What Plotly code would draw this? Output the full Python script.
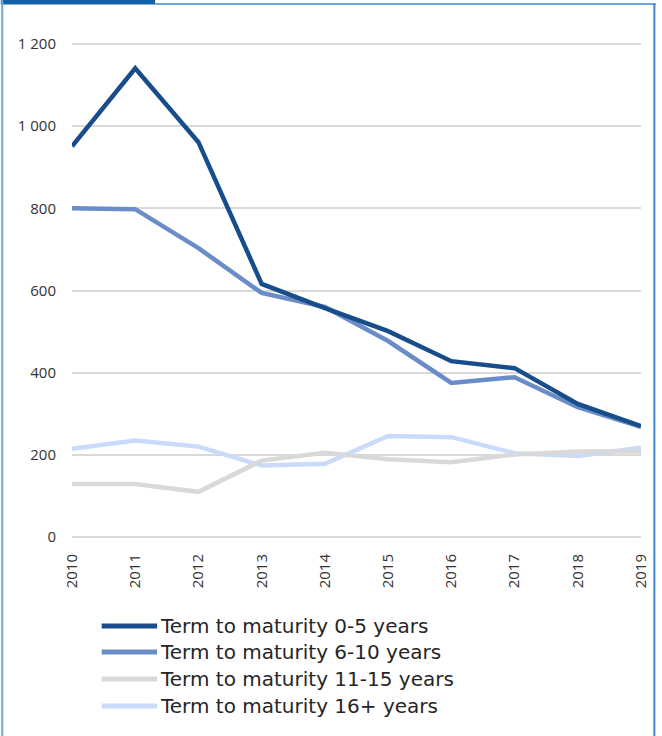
import plotly.graph_objects as go

# Outstanding amounts by term to maturity
years = [2010, 2011, 2012, 2013, 2014, 2015, 2016, 2017, 2018, 2019]
term_0_5 = [951, 1141, 961, 616, 557, 501, 428, 411, 324, 270]
term_6_10 = [800, 798, 703, 594, 560, 477, 375, 389, 316, 268]
term_11_15 = [129, 129, 110, 186, 205, 189, 182, 201, 208, 208]
term_16_plus = [215, 235, 220, 174, 178, 246, 243, 204, 197, 217]

series_names = [
    "Term to maturity 0-5 years",
    "Term to maturity 6-10 years",
    "Term to maturity 11-15 years",
    "Term to maturity 16+ years",
]
series_values = [term_0_5, term_6_10, term_11_15, term_16_plus]
series_colors = ["#174d8b", "#6a8dc8", "#d9d9d9", "#c9dafb"]

y_tick_vals = [0, 200, 400, 600, 800, 1000, 1200]
y_tick_text = ["0", "200", "400", "600", "800", "1 000", "1 200"]

W, H = 662, 736
ML, MR, MT, MB = 72, 15, 36, 186
PW, PH = W - ML - MR, H - MT - MB

# pixel geometry of the value axis: 0 sits at y=537, 1200 at y=44
Y0_PX, Y1200_PX = 537, 44
units_per_px = 1200 / (Y0_PX - Y1200_PX)
y_lo = -((H - MB) - Y0_PX) * units_per_px
y_hi = 1200 + (Y1200_PX - MT) * units_per_px


def px(x):
    return (x - ML) / PW


def py(y):
    return 1 - (y - MT) / PH


fig = go.Figure()

# lighter series first so the darker ones sit on top
for name, vals, col in reversed(list(zip(series_names, series_values, series_colors))):
    fig.add_trace(go.Scatter(
        x=years, y=vals, mode="lines", name=name,
        line=dict(color=col, width=4.5), showlegend=False,
    ))

shapes = []
annotations = []

# hand-drawn legend with long line samples
leg_y = [626, 652, 679, 706]
for name, col, yy in zip(series_names, series_colors, leg_y):
    shapes.append(dict(type="line", xref="paper", yref="paper",
                       x0=px(102), x1=px(158), y0=py(yy), y1=py(yy),
                       line=dict(color=col, width=5)))
    annotations.append(dict(xref="paper", yref="paper", x=px(159), y=py(yy),
                            text=name, showarrow=False, xanchor="left", yanchor="middle",
                            font=dict(family="DejaVu Sans", size=20, color="#262626")))

# frame around the chart with a tab at the top-left
shapes.append(dict(type="rect", xref="paper", yref="paper",
                   x0=px(0), x1=px(156), y0=py(0), y1=py(4.5),
                   fillcolor="#0f62aa", line=dict(width=0), layer="above"))
shapes.append(dict(type="line", xref="paper", yref="paper",
                   x0=px(156), x1=px(662), y0=py(4), y1=py(4),
                   line=dict(color="#3a88cc", width=1.5)))
shapes.append(dict(type="line", xref="paper", yref="paper",
                   x0=px(1.5), x1=px(1.5), y0=py(0), y1=py(736),
                   line=dict(color="#6fa6d8", width=2)))
shapes.append(dict(type="line", xref="paper", yref="paper",
                   x0=px(660.5), x1=px(660.5), y0=py(4), y1=py(736),
                   line=dict(color="#3a88cc", width=2)))

fig.update_layout(
    width=W, height=H,
    margin=dict(l=ML, r=MR, t=MT, b=MB),
    paper_bgcolor="white", plot_bgcolor="white",
    shapes=shapes, annotations=annotations,
    xaxis=dict(
        range=[2010, 2019], tickmode="array", tickvals=years,
        ticktext=[str(y) for y in years], tickangle=-90,
        showgrid=False, zeroline=False, showline=False, ticks="",
        tickfont=dict(family="Open Sans", size=15, color="#333333"),
        ticklabelstandoff=0,
    ),
    yaxis=dict(
        range=[y_lo, y_hi], tickmode="array", tickvals=y_tick_vals,
        ticktext=y_tick_text,
        showgrid=True, gridcolor="#d9d9d9", gridwidth=2,
        zeroline=False, showline=False, ticks="",
        tickfont=dict(family="Open Sans", size=15, color="#333333"),
        ticklabelstandoff=15,
    ),
)

fig.write_html("out.html")
